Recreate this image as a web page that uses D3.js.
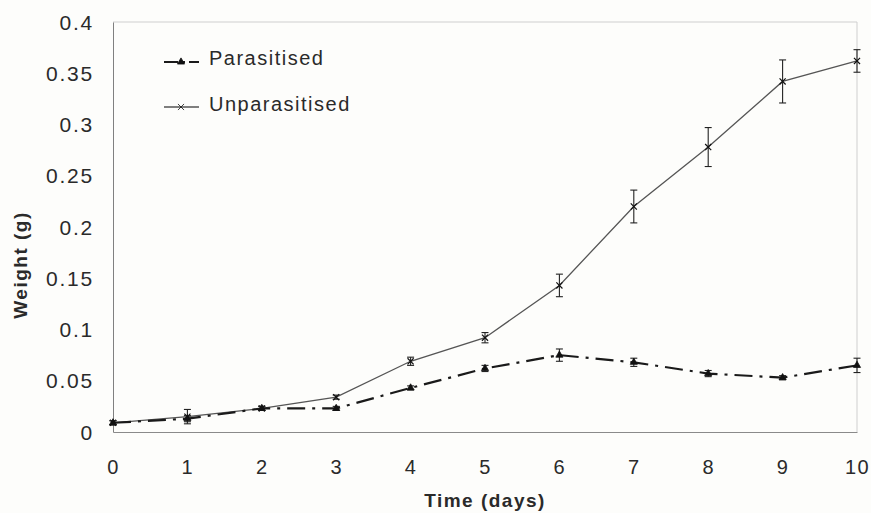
<!DOCTYPE html>
<html>
<head>
<meta charset="utf-8">
<script src="https://cdn.jsdelivr.net/npm/d3@7"></script>
<style>
  html, body { margin: 0; padding: 0; background: #fdfdfb; }
  svg { display: block; }
  text { font-family: "Liberation Sans", Arial, sans-serif; fill: #2a2a2a; }
</style>
</head>
<body>
<svg id="chart" width="871" height="513"></svg>
<script>
// Larval weight over time, mean ± SE
const days = [0, 1, 2, 3, 4, 5, 6, 7, 8, 9, 10];
const parasitised    = [0.009, 0.013, 0.023, 0.023, 0.043, 0.062, 0.075, 0.068, 0.057, 0.053, 0.065];
const parasitisedErr = [0.002, 0.003, 0.002, 0.002, 0.002, 0.003, 0.006, 0.004, 0.003, 0.002, 0.007];
const unparasitised    = [0.009, 0.015, 0.023, 0.034, 0.069, 0.092, 0.143, 0.220, 0.278, 0.342, 0.362];
const unparasitisedErr = [0.002, 0.007, 0.002, 0.002, 0.004, 0.005, 0.011, 0.016, 0.019, 0.021, 0.011];
const yTicks = [0, 0.05, 0.1, 0.15, 0.2, 0.25, 0.3, 0.35, 0.4];
const seriesNames = ["Parasitised", "Unparasitised"];

const svg = d3.select("#chart");
const x = d3.scaleLinear().domain([0, 10]).range([113, 857]);
const y = d3.scaleLinear().domain([0, 0.4]).range([432, 22]);

// frame: light top and right edges
svg.append("line").attr("x1", x(0)).attr("x2", x(10)).attr("y1", y(0.4)).attr("y2", y(0.4))
  .attr("stroke", "#cfcfcf").attr("stroke-width", 1);
svg.append("line").attr("x1", x(10)).attr("x2", x(10)).attr("y1", y(0.4)).attr("y2", y(0))
  .attr("stroke", "#cfcfcf").attr("stroke-width", 1);

// axes
const yAxis = d3.axisLeft(y).tickValues(yTicks).tickSize(0).tickPadding(19)
  .tickFormat(d => d === 0 ? "0" : String(+d.toFixed(2)));
const gy = svg.append("g").attr("transform", `translate(${x(0)},0)`).call(yAxis);
gy.select(".domain").attr("stroke", "#808080");
gy.selectAll("text").attr("font-size", 21).attr("letter-spacing", "1.8px")
  .attr("font-family", "Liberation Sans, Arial, sans-serif").attr("fill", "#2a2a2a").attr("dy", "0.34em");

const xAxis = d3.axisBottom(x).tickValues(days).tickSize(0).tickPadding(28).tickFormat(d3.format("d"));
const gx = svg.append("g").attr("transform", `translate(0,${y(0)})`).call(xAxis);
gx.select(".domain").attr("stroke", "#8a8a8a");
gx.selectAll("text").attr("font-size", 20).attr("letter-spacing", "1.5px")
  .attr("font-family", "Liberation Sans, Arial, sans-serif").attr("fill", "#2a2a2a");

// axis titles
svg.append("text").attr("x", 485).attr("y", 507).attr("text-anchor", "middle")
  .attr("font-size", 19).attr("font-weight", "bold").attr("letter-spacing", "1.5px").text("Time (days)");
svg.append("text").attr("transform", "translate(27,265) rotate(-90)").attr("text-anchor", "middle")
  .attr("font-size", 19).attr("font-weight", "bold").attr("letter-spacing", "1.5px").text("Weight (g)");

const line = d3.line().x(d => x(d[0])).y(d => y(d[1]));
const sym = {
  tri: d3.symbol().type(d3.symbolTriangle).size(22),
  cross: d3.symbol().type(d3.symbolX).size(26)
};

function drawSeries(vals, errs, opts) {
  const pts = days.map((d, i) => [d, vals[i], errs[i]]);
  const g = svg.append("g");
  // error bars
  const eb = g.selectAll(".eb").data(pts).enter().append("g").attr("stroke", "#222").attr("stroke-width", 1.1);
  eb.append("line").attr("x1", d => x(d[0])).attr("x2", d => x(d[0]))
    .attr("y1", d => y(d[1] - d[2])).attr("y2", d => y(d[1] + d[2]));
  eb.append("line").attr("x1", d => x(d[0]) - 3.5).attr("x2", d => x(d[0]) + 3.5)
    .attr("y1", d => y(d[1] + d[2])).attr("y2", d => y(d[1] + d[2]));
  eb.append("line").attr("x1", d => x(d[0]) - 3.5).attr("x2", d => x(d[0]) + 3.5)
    .attr("y1", d => y(d[1] - d[2])).attr("y2", d => y(d[1] - d[2]));
  // line
  g.append("path").datum(pts).attr("d", line).attr("fill", "none")
    .attr("stroke", opts.stroke).attr("stroke-width", opts.width)
    .attr("stroke-dasharray", opts.dash);
  // markers
  g.selectAll(".m").data(pts).enter().append("path")
    .attr("transform", d => `translate(${x(d[0])},${y(d[1])})`)
    .attr("d", opts.symbol)
    .attr("fill", "#111").attr("stroke", "#111").attr("stroke-width", opts.symStroke);
}

drawSeries(unparasitised, unparasitisedErr,
  { stroke: "#555", width: 1.3, dash: null, symbol: sym.cross, symStroke: 1.2 });
drawSeries(parasitised, parasitisedErr,
  { stroke: "#1a1a1a", width: 2.2, dash: "18,7,3,7", symbol: sym.tri, symStroke: 0.8 });

// legend
const legend = [
  { name: seriesNames[0], ly: 62, ty: 65, dash: "14,4,3,4", width: 2, stroke: "#1a1a1a", symbol: sym.tri },
  { name: seriesNames[1], ly: 107, ty: 111, dash: null, width: 1.3, stroke: "#555", symbol: sym.cross }
];
const lg = svg.append("g");
legend.forEach(l => {
  lg.append("line").attr("x1", 164).attr("x2", 199).attr("y1", l.ly).attr("y2", l.ly)
    .attr("stroke", l.stroke).attr("stroke-width", l.width).attr("stroke-dasharray", l.dash);
  lg.append("path").attr("transform", `translate(181,${l.ly})`).attr("d", l.symbol)
    .attr("fill", "#111").attr("stroke", "#111").attr("stroke-width", 0.8);
  lg.append("text").attr("x", 209).attr("y", l.ty).attr("font-size", 20)
    .attr("letter-spacing", "1.5px").text(l.name);
});
</script>
</body>
</html>
